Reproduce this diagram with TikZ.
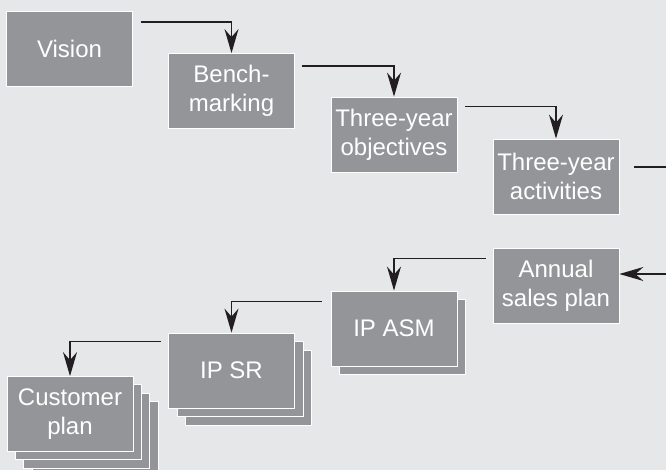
\documentclass[tikz,border=0pt]{standalone}
\usepackage{fontspec}
\setmainfont{Liberation Sans}
\usetikzlibrary{calc,positioning,arrows.meta}

\definecolor{bggray}{HTML}{E6E7E8}
\definecolor{boxgray}{HTML}{939598}
\definecolor{linedark}{HTML}{231F20}

\tikzset{
  box/.style={rectangle, fill=boxgray, draw=white, line width=0.4pt, text=white,
    minimum width=63pt, minimum height=37.5pt, inner sep=1pt, align=center,
    font=\fontsize{12}{14.5}\selectfont},
  arr/.style={-{Stealth[length=12pt,width=7pt,inset=4pt]}, line width=0.65pt, linedark}
}

\begin{document}
\begin{tikzpicture}[x=0.5pt,y=-0.5pt]

\useasboundingbox (0,0) rectangle (666,470);
\clip (0,0) rectangle (666,470);
\fill[bggray] (0,0) rectangle (666,470);

% top row
\node[box] (vision) at (69.5,49) {Vision};
\node[box] (bench) at (231.5,91) {Bench-\\marking};
\node[box] (obj) at (394,134.5) {Three-year\\objectives};
\node[box] (act) at (556,176.5) {Three-year\\activities};

% bottom row, with stacked copies behind
\node[box] (ann) at (556,285.5) {Annual\\sales plan};

\node[box] (asmb) at (402,336.5) {};
\node[box] (asm) at (394,328.5) {IP ASM};

\node[box] (src) at (248.5,387.5) {};
\node[box] (srb) at (240,379) {};
\node[box] (sr) at (231.5,370.5) {IP SR};

\node[box] (custd) at (95,439) {};
\node[box] (custc) at (86.5,431) {};
\node[box] (custb) at (78,422) {};
\node[box] (cust) at (70,414) {Customer\\plan};

\draw[arr] ($(vision.north east)+(8,11)$) -| (bench.north);
\draw[arr] ($(bench.north east)+(7,13)$) -| (obj.north);
\draw[arr] ($(obj.north east)+(8,10)$) -| (act.north);
\draw[arr] ($(act.east)+(15,-9.5)$) -- ++(60,0) |- ($(ann.east)+(0,-11.5)$);
\draw[arr] ($(ann.north west)+(-7,11)$) -| (asm.north);
\draw[arr] ($(asm.north west)+(-9,11)$) -| (sr.north);
\draw[arr] ($(sr.north west)+(-7,9)$) -| (cust.north);

\end{tikzpicture}
\end{document}
